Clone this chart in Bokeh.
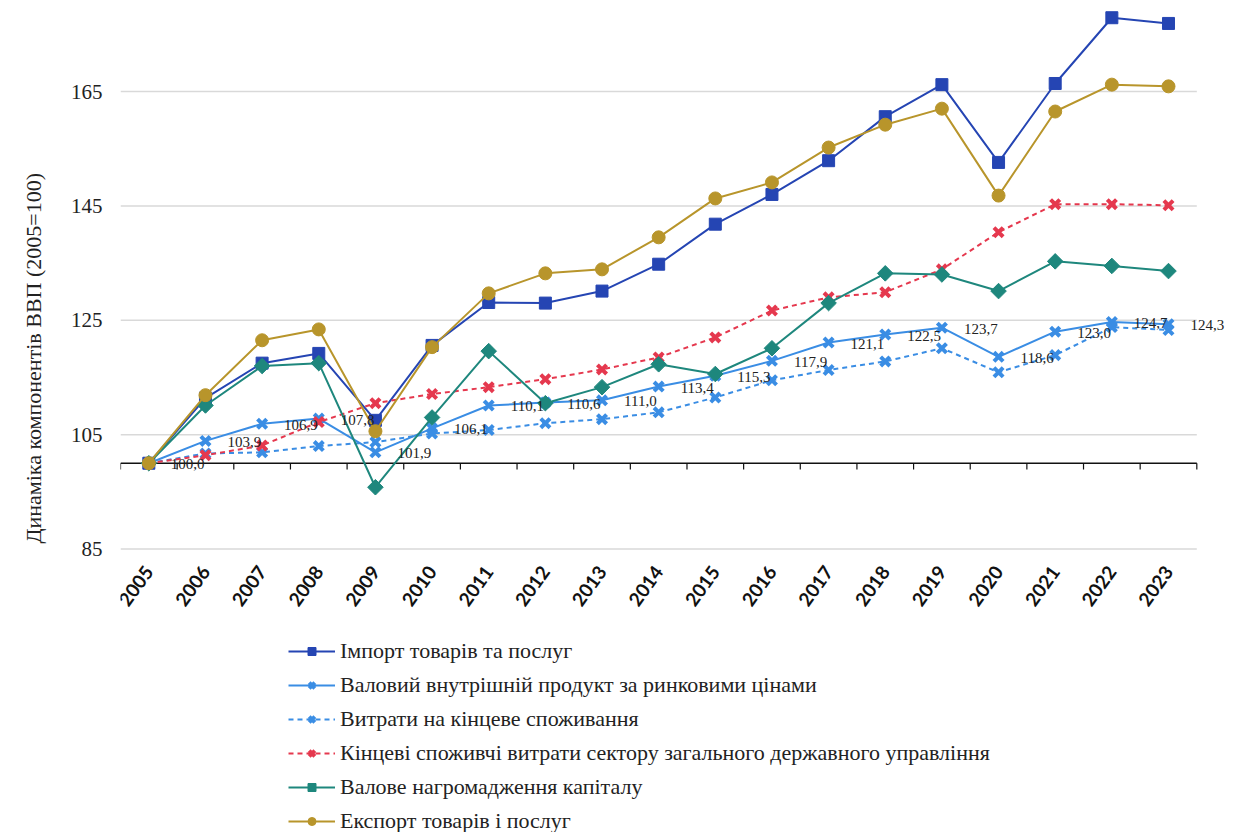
import math
from bokeh.plotting import figure
from bokeh.models import (ColumnDataSource, FixedTicker, Legend, LegendItem,
                          LabelSet, Title)
from bokeh.core.properties import value
from bokeh.embed import file_html
from bokeh.resources import INLINE

# ---------------- data ----------------
years = list(range(2005, 2024))
year_labels = [str(y) for y in years]

imports = [100.0, 111.4, 117.5, 119.2, 107.5, 120.6, 128.1, 128.0, 130.1, 134.8,
           141.8, 147.0, 152.9, 160.6, 166.2, 152.6, 166.4, 177.9, 176.9]
gdp = [100.0, 103.9, 106.9, 107.8, 101.9, 106.1, 110.1, 110.6, 111.0, 113.4,
       115.3, 117.9, 121.1, 122.5, 123.7, 118.6, 123.0, 124.7, 124.3]
consumption = [100.0, 101.7, 101.9, 103.0, 103.7, 105.2, 105.8, 107.0, 107.7, 108.9,
               111.5, 114.5, 116.3, 117.8, 120.1, 115.9, 118.9, 123.8, 123.3]
government = [100.0, 101.4, 103.1, 107.2, 110.5, 112.1, 113.3, 114.7, 116.4, 118.5,
              122.0, 126.7, 129.0, 129.9, 133.9, 140.4, 145.3, 145.3, 145.1]
capital = [100.0, 110.1, 117.0, 117.5, 95.8, 108.0, 119.6, 110.5, 113.3, 117.3,
           115.6, 120.1, 128.0, 133.2, 133.0, 130.1, 135.3, 134.5, 133.6]
exports = [100.0, 111.9, 121.5, 123.4, 105.6, 120.3, 129.7, 133.2, 133.9, 139.5,
           146.3, 149.1, 155.2, 159.2, 162.0, 146.8, 161.5, 166.2, 165.9]

series_names = [
    "Імпорт товарів та послуг",
    "Валовий внутрішній продукт за ринковими цінами",
    "Витрати на кінцеве споживання",
    "Кінцеві споживчі витрати сектору загального державного управління",
    "Валове нагромадження капіталу",
    "Експорт товарів і послуг",
]
y_ticks = [85, 105, 125, 145, 165]
base_value = 100
y_title = "Динаміка компонентів ВВП (2005=100)"

# ---------------- layout / styles ----------------
W, H = 1240, 832
frame_left = 117
px_per_unit = 5.71875          # vertical scale of the reference
y85_px = 548.5                 # screen row of the lowest gridline
y_lo = y_ticks[0] - (H - y85_px) / px_per_unit
y_hi = y_ticks[0] + y85_px / px_per_unit
cat_px = 56.8
x_lo = years[0] - 0.5
x_hi = x_lo + (W - frame_left) / cat_px

series_values = [imports, gdp, consumption, government, capital, exports]
colors = ["#2545B3", "#3A8DE4", "#3A8DE4", "#E5384E", "#1E877D", "#B8952B"]
dashes = ["solid", "solid", "5 4", "5 4", "solid", "solid"]
markers = ["square", "x", "x", "x", "square", "circle"]
angles = [0, 0, 0, 0, math.pi / 4, 0]
msizes = [12, 13, 13, 13, 11, 13]
serif = "Liberation Serif"

p = figure(width=W, height=H, x_range=(x_lo, x_hi), y_range=(y_lo, y_hi),
           output_backend="svg", toolbar_location=None, x_axis_location=None,
           min_border_left=frame_left, min_border_right=0, min_border_top=0,
           min_border_bottom=0)
p.outline_line_color = None
p.background_fill_color = "white"
p.xgrid.visible = False
p.ygrid.visible = False

bounds = [y - 0.5 for y in years] + [years[-1] + 0.5]
# horizontal gridlines limited to the category span
p.segment(x0=[bounds[0]] * len(y_ticks), y0=y_ticks, x1=[bounds[-1]] * len(y_ticks),
          y1=y_ticks, line_color="#D9D9D9", line_width=1.5)

p.yaxis.ticker = FixedTicker(ticks=y_ticks)
p.yaxis.axis_line_color = None
p.yaxis.major_tick_line_color = None
p.yaxis.minor_tick_line_color = None
p.yaxis.major_tick_out = 0
p.yaxis.major_label_text_font = serif
p.yaxis.major_label_text_font_size = "21px"
p.yaxis.major_label_text_color = "#222222"
p.yaxis.major_label_standoff = 18

# category axis line crossing at 100, with ticks between categories
p.segment(x0=[bounds[0]], y0=[base_value], x1=[bounds[-1]], y1=[base_value],
          line_color="#111111", line_width=1.5)
p.segment(x0=bounds, y0=[base_value] * len(bounds), x1=bounds,
          y1=[base_value - 1.1] * len(bounds), line_color="#111111", line_width=1.2)

# category (year) labels, low position, rotated
label_y = y_ticks[0] - 19 / px_per_unit
p.text(x=years, y=[label_y] * len(years), text=year_labels, angle=math.radians(54),
       text_align="right", text_baseline="middle", x_offset=0,
       text_font=value("Lato"), text_font_style="bold", text_font_size="19px",
       text_color="#111111")

items = []
for name, vals, c, d, m, a, s in zip(series_names, series_values, colors, dashes,
                                     markers, angles, msizes):
    src = ColumnDataSource(dict(x=years, y=vals))
    lr = p.line("x", "y", source=src, line_color=c, line_width=2, line_dash=d)
    if m == "x":
        sr = p.scatter("x", "y", source=src, marker="x", size=s, line_color=c, line_width=4)
    else:
        sr = p.scatter("x", "y", source=src, marker=m, size=s, angle=a,
                       fill_color=c, line_color=c)
    items.append(LegendItem(label=name, renderers=[lr, sr]))

# data labels for GDP
lab_src = ColumnDataSource(dict(x=years, y=gdp,
                                t=[f"{v:.1f}".replace(".", ",") for v in gdp]))
p.add_layout(LabelSet(x="x", y="y", text="t", source=lab_src, x_offset=22, y_offset=-1,
                      text_baseline="middle", text_align="left",
                      text_font=value(serif), text_font_size=value("15px"),
                      text_color=value("#222222")))

legend = Legend(items=items, location=(168, -2), orientation="vertical",
                glyph_width=47, glyph_height=20, label_height=20, spacing=8,
                padding=0, margin=0, label_standoff=5,
                border_line_color=None, background_fill_alpha=0,
                label_text_font=serif, label_text_font_size="22px",
                label_text_color="#222222")
p.add_layout(legend, "center")

p.add_layout(Title(text=y_title, align="left", offset=289, standoff=40,
                   vertical_align="top",
                   text_font=serif, text_font_size="22px", text_font_style="normal",
                   text_color="#222222"), "left")

open("out.html", "w").write(file_html(p, INLINE))
